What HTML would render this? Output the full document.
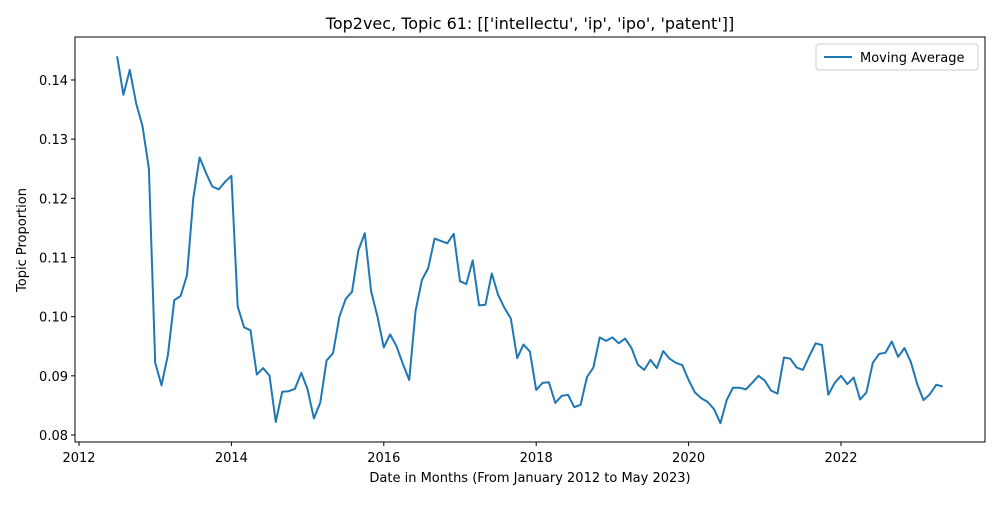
<!DOCTYPE html>
<html><head><meta charset="utf-8"><style>
body{margin:0;background:#fff;font-family:"Liberation Sans","DejaVu Sans",sans-serif}
svg text{font-family:"DejaVu Sans","Liberation Sans",sans-serif;fill:#000}
</style></head><body>
<svg id="chart" width="1000" height="500">
<text x="530" y="29" font-size="16" text-anchor="middle">Top2vec, Topic 61: [['intellectu', 'ip', 'ipo', 'patent']]</text>
<g id="xt"></g><g id="yt"></g>
<polyline id="line" fill="none" stroke="#1f77b4" stroke-width="2" stroke-linejoin="round"/>
<rect x="75" y="37" width="910" height="405" fill="none" stroke="#000" stroke-width="1"/>
<text x="530" y="482" font-size="13" text-anchor="middle">Date in Months (From January 2012 to May 2023)</text>
<text transform="translate(26,240) rotate(-90)" font-size="13" text-anchor="middle">Topic Proportion</text>
<g>
<rect x="816" y="44" width="162" height="26" rx="3" fill="#fff" stroke="#ccc"/>
<line x1="824" y1="57" x2="852" y2="57" stroke="#1f77b4" stroke-width="2"/>
<text x="860" y="62" font-size="13">Moving Average</text>
</g>
</svg>
<script>
const startYear = 2012.5;
const values = [.1440,.1375,.1417,.1360,.1322,.1250,
.0922,.0884,.0935,.1028,.1035,.1070,.1200,.1269,.1243,.1220,.1215,.1228,
.1238,.1017,.0982,.0977,.0902,.0913,.0900,.0822,.0873,.0874,.0878,.0905,
.0877,.0828,.0855,.0926,.0938,.1000,.1030,.1042,.1112,.1141,.1043,.1000,
.0948,.0970,.0950,.0920,.0893,.1010,.1062,.1082,.1132,.1128,.1124,.1140,
.1060,.1055,.1095,.1019,.1020,.1073,.1037,.1015,.0997,.0930,.0953,.0941,
.0876,.0888,.0889,.0854,.0866,.0868,.0847,.0851,.0898,.0914,.0965,.0959,
.0965,.0955,.0963,.0947,.0919,.0910,.0927,.0913,.0942,.0929,.0922,.0918,
.0893,.0872,.0862,.0856,.0844,.0820,.0859,.0880,.0880,.0877,.0888,.0900,
.0892,.0875,.0870,.0931,.0929,.0914,.0910,.0933,.0955,.0952,.0868,.0888,
.0900,.0886,.0897,.0860,.0872,.0922,.0937,.0939,.0958,.0932,.0947,.0923,
.0886,.0859,.0869,.0885,.0882];
const xTicks = [2012,2014,2016,2018,2020,2022];
const yTicks = [0.08,0.09,0.10,0.11,0.12,0.13,0.14];
const NS="http://www.w3.org/2000/svg";
const xs = yr => 79 + (yr-2012)*76.2;
const ys = v => 435 - (v-0.08)*5917;
document.getElementById('line').setAttribute('points', values.map((v,i)=>xs(startYear+i/12).toFixed(1)+','+ys(v).toFixed(1)).join(' '));
const xt=document.getElementById('xt'), yt=document.getElementById('yt');
xTicks.forEach(t=>{
 const l=document.createElementNS(NS,'line');
 l.setAttribute('x1',xs(t));l.setAttribute('x2',xs(t));l.setAttribute('y1',442);l.setAttribute('y2',446);l.setAttribute('stroke','#000');
 
 
 xt.appendChild(l);
 const s=document.createElementNS(NS,'text');
 s.setAttribute('x',xs(t));s.setAttribute('y',462);s.setAttribute('font-size','13');s.setAttribute('text-anchor','middle');s.textContent=t;
 
 
 xt.appendChild(s);
});
yTicks.forEach(t=>{
 const l=document.createElementNS(NS,'line');
 l.setAttribute('x1',71);l.setAttribute('x2',75);l.setAttribute('y1',ys(t));l.setAttribute('y2',ys(t));l.setAttribute('stroke','#000');
 
 
 yt.appendChild(l);
 const s=document.createElementNS(NS,'text');
 s.setAttribute('x',68);s.setAttribute('y',ys(t)+5);s.setAttribute('font-size','13');s.setAttribute('text-anchor','end');s.textContent=t.toFixed(2);
 
 
 yt.appendChild(s);
});
</script>
</body></html>
